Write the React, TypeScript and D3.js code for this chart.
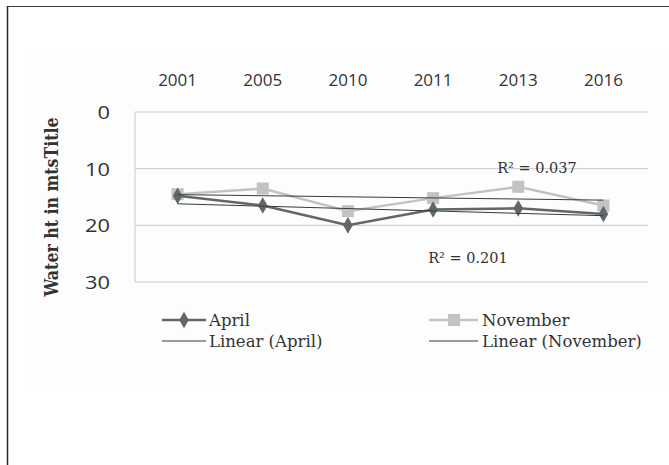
import * as d3 from 'd3'

const YEARS = ['2001', '2005', '2010', '2011', '2013', '2016']
const APRIL = [14.8, 16.5, 20.0, 17.2, 17.0, 18.0]
const NOVEMBER = [14.5, 13.5, 17.5, 15.2, 13.2, 16.5]
const Y_TICKS = [0, 10, 20, 30]
const R2_APRIL = 'R² = 0.201'
const R2_NOV = 'R² = 0.037'

const W = 669
const H = 465
const PLOT = { left: 135, right: 646, top: 112, bottom: 282 }

const APRIL_COLOR = '#5f676b'
const NOV_COLOR = '#c3c3c3'
const TREND_COLOR = '#3a3a3a'
const GRID = '#c9c9c9'
const TEXT = '#333'
const SERIF = "'DejaVu Serif', 'Liberation Serif', serif"
const SANS = "'Open Sans', 'Liberation Sans', sans-serif"

// least squares over the category index
function trend(vals: number[]) {
  const xs = vals.map((_, i) => i)
  const mx = d3.mean(xs)!
  const my = d3.mean(vals)!
  const sxy = d3.sum(xs, (x, i) => (x - mx) * (vals[i] - my))
  const sxx = d3.sum(xs, (x) => (x - mx) ** 2)
  const b = sxy / sxx
  const a = my - b * mx
  return [0, vals.length - 1].map((i) => ({ i, v: a + b * i }))
}

export default function App() {
  const x = d3.scaleBand().domain(YEARS).range([PLOT.left, PLOT.right])
  const cx = (i: number) => x(YEARS[i])! + x.bandwidth() / 2
  const y = d3.scaleLinear().domain([0, 30]).range([PLOT.top, PLOT.bottom])

  const line = d3.line<number>().x((_, i) => cx(i)).y((d) => y(d))
  const tline = d3.line<{ i: number; v: number }>().x((d) => cx(d.i)).y((d) => y(d.v))

  const diamond = d3.symbol().type(d3.symbolDiamond).size(80)()
  const square = d3.symbol().type(d3.symbolSquare).size(145)()

  return (
    <div style={{ position: 'absolute', left: 0, top: 0 }}>
      <svg width={W} height={H} style={{ display: 'block', background: '#fff' }}>
        <rect x={30} y={55} width={W - 30} height={330} fill="#fdfdfe" />
        <line x1={7} y1={6.5} x2={W} y2={6.5} stroke="#3a3a3a" strokeWidth={1.2} />
        <line x1={7.5} y1={6} x2={7.5} y2={H} stroke="#2a2a2a" strokeWidth={1.5} />

        {Y_TICKS.map((t) => (
          <g key={t}>
            <line x1={PLOT.left} x2={PLOT.right + 2} y1={y(t)} y2={y(t)} stroke={GRID} strokeWidth={1} />
            <text
              transform={`translate(110,${y(t)}) scale(1.15,1)`}
              dy="0.36em"
              textAnchor="end"
              fontFamily={SANS}
              fontSize={19}
              fill={TEXT}
            >
              {t}
            </text>
          </g>
        ))}
        <line x1={PLOT.left} x2={PLOT.left} y1={PLOT.top} y2={PLOT.bottom} stroke={GRID} strokeWidth={1} />

        {YEARS.map((yr, i) => (
          <text key={yr} x={cx(i)} y={80} dy="0.36em" textAnchor="middle" fontFamily={SANS} fontSize={17} fill={TEXT}>
            {yr}
          </text>
        ))}

        <text
          transform={`translate(51,207) rotate(-90)`}
          dy="0.36em"
          textAnchor="middle"
          fontFamily={SERIF}
          fontWeight="bold"
          fontSize={19}
          textLength={179}
          lengthAdjust="spacingAndGlyphs"
          fill={TEXT}
        >
          Water ht in mtsTitle
        </text>

        <path d={line(NOVEMBER)!} fill="none" stroke={NOV_COLOR} strokeWidth={2.5} />
        {NOVEMBER.map((v, i) => (
          <path key={i} d={square!} transform={`translate(${cx(i)},${y(v)})`} fill={NOV_COLOR} />
        ))}
        <path d={line(APRIL)!} fill="none" stroke={APRIL_COLOR} strokeWidth={2.5} />
        {APRIL.map((v, i) => (
          <path key={i} d={diamond!} transform={`translate(${cx(i)},${y(v)})`} fill={APRIL_COLOR} />
        ))}
        <path d={tline(trend(APRIL))!} fill="none" stroke={TREND_COLOR} strokeWidth={1} />
        <path d={tline(trend(NOVEMBER))!} fill="none" stroke={TREND_COLOR} strokeWidth={1} />

        <text x={537} y={168} dy="0.35em" textAnchor="middle" fontFamily={SERIF} fontSize={14.5} fill={TEXT}>
          {R2_NOV}
        </text>
        <text x={468} y={258} dy="0.35em" textAnchor="middle" fontFamily={SERIF} fontSize={14.5} fill={TEXT}>
          {R2_APRIL}
        </text>

        {/* legend */}
        <g fontFamily={SERIF} fontSize={16.5} fill={TEXT}>
          <line x1={162} x2={206} y1={320} y2={320} stroke={APRIL_COLOR} strokeWidth={2.5} />
          <path d={diamond!} transform="translate(184,320)" fill={APRIL_COLOR} />
          <text x={209} y={320} dy="0.35em">April</text>
          <line x1={162} x2={206} y1={341} y2={341} stroke={TREND_COLOR} strokeWidth={1} />
          <text x={209} y={341} dy="0.35em">Linear (April)</text>

          <line x1={429} x2={478} y1={320} y2={320} stroke={NOV_COLOR} strokeWidth={2.5} />
          <path d={square!} transform="translate(454,320)" fill={NOV_COLOR} />
          <text x={482} y={320} dy="0.35em">November</text>
          <line x1={429} x2={478} y1={341} y2={341} stroke={TREND_COLOR} strokeWidth={1} />
          <text x={482} y={341} dy="0.35em">Linear (November)</text>
        </g>
      </svg>
    </div>
  )
}
